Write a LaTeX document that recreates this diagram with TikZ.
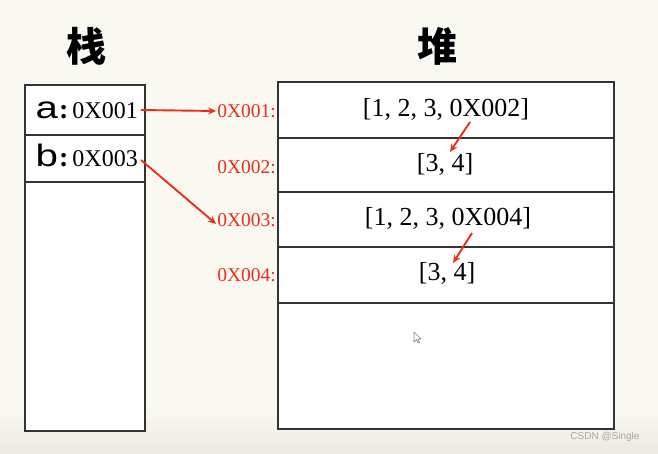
\documentclass[tikz,border=0pt]{standalone}
\usepackage{graphicx}
\usepackage{fontspec}
\setmainfont{Liberation Serif}
\newfontfamily\cjk{Noto Sans CJK SC}
\newfontfamily\wmfont{Liberation Sans}
\newfontfamily\lsans{Liberation Sans}
\usetikzlibrary{arrows.meta}
\definecolor{bgc}{HTML}{F9F8F1}
\definecolor{bgd}{HTML}{ECEAE2}
\definecolor{redc}{HTML}{E8301C}
\definecolor{linec}{HTML}{333333}
\tikzset{
  cell/.style={draw=linec, line width=1.6pt, fill=white, inner sep=0pt, anchor=north west},
  celltxt/.style={font=\fontsize{24}{26}\selectfont},
  heaptxt/.style={font=\fontsize{26}{28}\selectfont},
  addr/.style={text=redc, font=\fontsize{19.5}{21}\selectfont, anchor=east, inner sep=1pt},
  ptr/.style={draw=redc, line width=1.9pt, -{Stealth[length=8pt,width=7pt]}},
  title/.style={font=\cjk\bfseries\fontsize{40}{44}\selectfont},
  wmstyle/.style={text=gray!70, font=\wmfont\fontsize{10}{12}\selectfont, anchor=east},
}
\newcommand{\varletter}[1]{{\lsans\fontsize{31}{34}\selectfont\scalebox{1.3}[1]{#1}}}
\newcommand{\bigcolon}{{\fontsize{28}{30}\selectfont\bfseries :}}
\begin{document}
\begin{tikzpicture}[x=1pt,y=-1pt]
\useasboundingbox (0,0) rectangle (658,453);
\fill[bgc] (0,0) rectangle (658,453);
\shade[top color=bgc, bottom color=bgd] (0,410) rectangle (658,453);

% titles
\node[title] (tstack) at (86,46) {栈};
\node[title] (theap) at (437,46) {堆};

% stack
\node[cell, minimum width=120pt, minimum height=50pt] (sa) at (24,84) {};
\node[cell, minimum width=120pt, minimum height=47pt] (sb) at (24,134) {};
\node[cell, minimum width=120pt, minimum height=249pt] (sr) at (24,181) {};
\node[celltxt, anchor=base east, inner sep=0pt] (ta) at (138,118) {\varletter{a}\kern1pt\bigcolon\kern4pt0X001};
\node[celltxt, anchor=base east, inner sep=0pt] (tb) at (138,166) {\varletter{b}\kern1pt\bigcolon\kern4pt0X003};

% heap
\node[cell, minimum width=336pt, minimum height=56pt] (h1) at (277,81) {};
\node[cell, minimum width=336pt, minimum height=54pt] (h2) at (277,137) {};
\node[cell, minimum width=336pt, minimum height=55pt] (h3) at (277,191) {};
\node[cell, minimum width=336pt, minimum height=56pt] (h4) at (277,246) {};
\node[cell, minimum width=336pt, minimum height=126pt] (h5) at (277,302) {};

\node[heaptxt] (v1) at (446,109) {[1, 2, 3, 0X002]};
\node[heaptxt] (v2) at (445,164) {[3, 4]};
\node[heaptxt] (v3) at (448,218) {[1, 2, 3, 0X004]};
\node[heaptxt] (v4) at (447,273) {[3, 4]};

% addresses
\node[addr] (l1) at (277,111) {0X001:};
\node[addr] (l2) at (277,167) {0X002:};
\node[addr] (l3) at (277,220) {0X003:};
\node[addr] (l4) at (277,275) {0X004:};

% pointers
\coordinate (pa) at (141,110);
\coordinate (pb) at (141,160);
\draw[ptr] (pa) -- (l1.west);
\draw[ptr] (pb) -- ([yshift=-4pt]l3.west);

\coordinate (q1s) at (470,122);
\coordinate (q1e) at (450,152);
\coordinate (q2s) at (472,233);
\coordinate (q2e) at (453,263);
\draw[ptr] (q1s) -- (q1e);
\draw[ptr] (q2s) -- (q2e);

% mouse cursor
\draw[gray, line width=0.6pt, fill=white, line join=round] (414,332) -- (414,342) -- (416.5,339.5) -- (418,343) -- (419.5,342.3) -- (418,339) -- (421,339) -- cycle;

% watermark
\node[wmstyle] (wmk) at (643,437) {CSDN @Single};
\end{tikzpicture}
\end{document}
